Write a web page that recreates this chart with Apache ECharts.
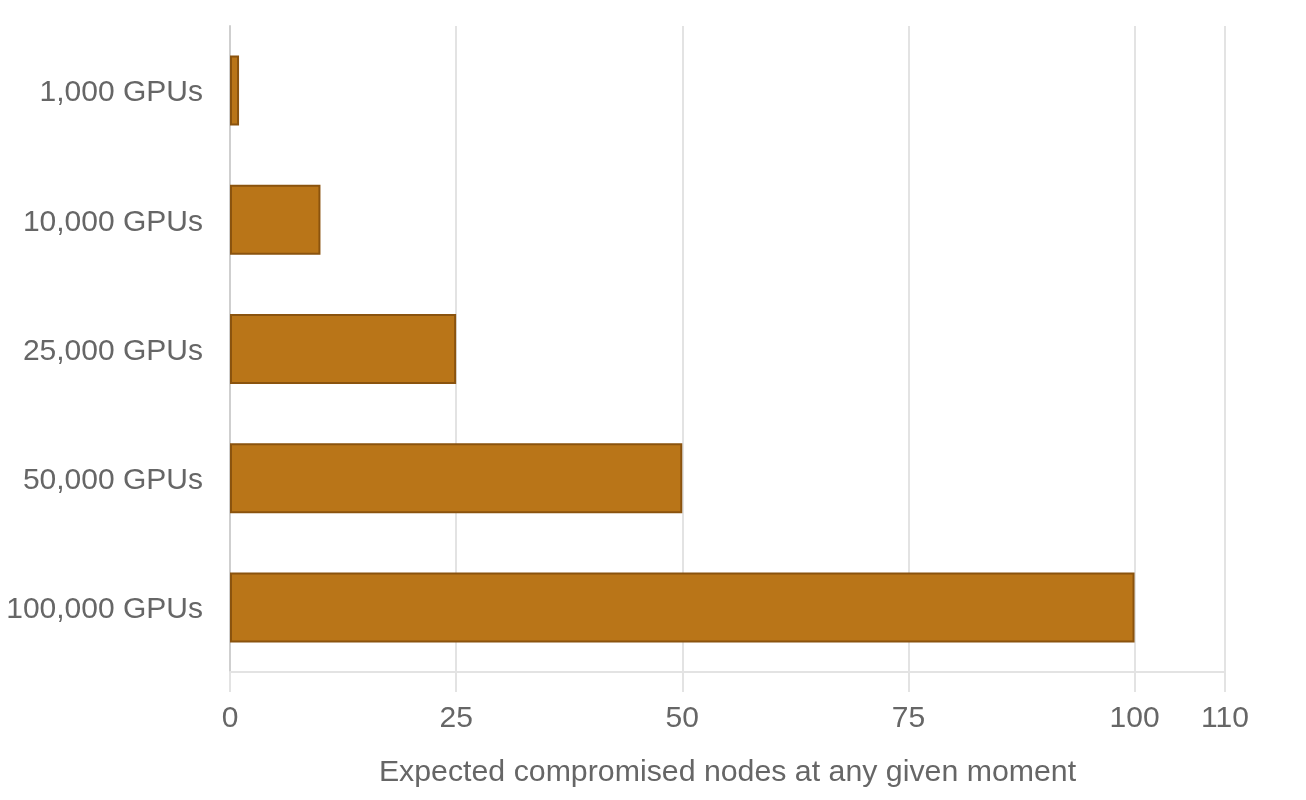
<!DOCTYPE html>
<html>
<head>
<meta charset="utf-8">
<script src="https://cdn.jsdelivr.net/npm/echarts@6/dist/echarts.min.js"></script>
<style>html,body{margin:0;padding:0;background:#fff;}#c{width:1306px;height:800px;}</style>
</head>
<body>
<div id="c"></div>
<script>
const categories = ['1,000 GPUs', '10,000 GPUs', '25,000 GPUs', '50,000 GPUs', '100,000 GPUs'];
const values = [1, 10, 25, 50, 100];
const axisTitle = 'Expected compromised nodes at any given moment';

const chart = echarts.init(document.getElementById('c'), null, {renderer: 'canvas'});
const font = 'Helvetica, "Liberation Sans", Arial, sans-serif';
chart.setOption({
  animation: false,
  grid: {left: 230, right: 81, top: 26, bottom: 128, containLabel: false},
  xAxis: {
    type: 'value', min: 0, max: 110, interval: 25,
    name: axisTitle, nameLocation: 'middle', nameGap: 86,
    nameTextStyle: {color: '#666', fontSize: 30.3, fontFamily: font},
    axisLine: {show: true, lineStyle: {color: '#e3e3e3', width: 2}},
    axisTick: {show: true, length: 20, lineStyle: {color: '#e3e3e3', width: 2}},
    splitLine: {show: true, lineStyle: {color: '#e3e3e3', width: 2}},
    axisLabel: {color: '#666', fontSize: 30, fontFamily: font, margin: 32, showMaxLabel: true}
  },
  yAxis: {
    type: 'category', data: categories, inverse: true,
    axisLine: {show: true, lineStyle: {color: '#cfcfcf', width: 2}},
    axisTick: {show: false},
    splitLine: {show: false},
    axisLabel: {
      color: '#666', fontSize: 30, fontFamily: font, margin: 27,
      formatter: function (v) { return '{a|' + v + '}'; },
      rich: {a: {color: '#666', fontSize: 30, fontFamily: font, padding: [5, 0, 0, 0]}}
    }
  },
  series: [{
    type: 'bar', data: values, barWidth: 70,
    itemStyle: {color: '#B97518', borderColor: '#8A530E', borderWidth: 2}
  }]
});
</script>
</body>
</html>
